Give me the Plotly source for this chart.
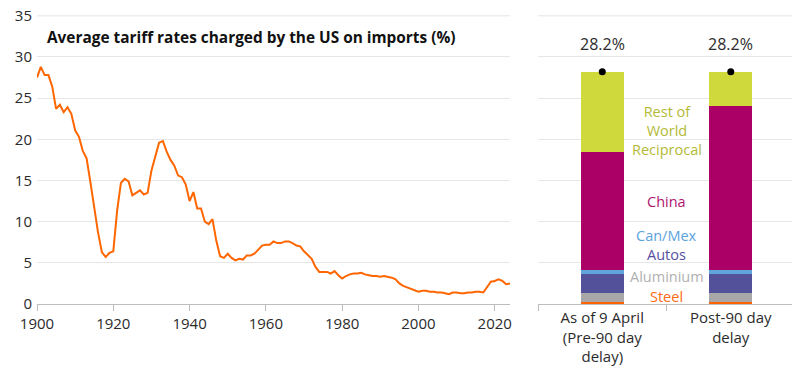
import plotly.graph_objects as go

# ---- Data ----
years = list(range(1900, 2025))
avg_tariff = [
    27.5, 28.8, 27.8, 27.8, 26.4, 23.7, 24.2, 23.3, 23.9, 23.1,  # 1900-1909
    21.1, 20.3, 18.6, 17.7, 14.8, 11.6, 8.7, 6.3, 5.7, 6.2,      # 1910-1919
    6.4, 11.3, 14.7, 15.2, 14.9, 13.2, 13.5, 13.8, 13.3, 13.5,   # 1920-1929
    16.2, 17.9, 19.6, 19.8, 18.5, 17.5, 16.8, 15.6, 15.4, 14.5,  # 1930-1939
    12.5, 13.6, 11.6, 11.6, 10.0, 9.7, 10.3, 7.7, 5.8, 5.6,      # 1940-1949
    6.1, 5.6, 5.3, 5.5, 5.4, 5.9, 5.9, 6.1, 6.6, 7.1,            # 1950-1959
    7.2, 7.2, 7.6, 7.4, 7.4, 7.6, 7.6, 7.4, 7.1, 7.0,            # 1960-1969
    6.4, 6.0, 5.5, 4.5, 3.9, 3.9, 3.9, 3.7, 4.0, 3.5,            # 1970-1979
    3.1, 3.4, 3.6, 3.7, 3.7, 3.8, 3.6, 3.5, 3.4, 3.4,            # 1980-1989
    3.3, 3.4, 3.3, 3.2, 3.0, 2.5, 2.2, 2.0, 1.9, 1.7,            # 1990-1999
    1.5, 1.6, 1.6, 1.5, 1.5, 1.4, 1.4, 1.3, 1.2, 1.4,            # 2000-2009
    1.4, 1.3, 1.3, 1.4, 1.4, 1.5, 1.5, 1.4, 2.0, 2.7,            # 2010-2019
    2.8, 3.0, 2.8, 2.4, 2.5,                                     # 2020-2024
]

scenarios = ["As of 9 April<br>(Pre-90 day<br>delay)", "Post-90 day<br>delay"]
components = ["Steel", "Aluminium", "Autos", "Can/Mex", "China", "Rest of<br>World<br>Reciprocal"]
steel = [0.2, 0.2]
aluminium = [1.15, 1.15]
autos = [2.28, 2.28]
canmex = [0.52, 0.52]
china = [14.28, 19.87]
rest_of_world = [9.77, 4.18]
totals = [28.2, 28.2]

comp_values = [steel, aluminium, autos, canmex, china, rest_of_world]
bar_colors = ["#FF6200", "#A8A8A8", "#525199", "#60A4DC", "#AB0066", "#D0D93C"]
label_colors = ["#FF6A13", "#B0B0B0", "#55509E", "#5BA3DC", "#B0136F", "#B3BA35"]
label_y = [0.9, 3.4, 6.0, 8.3, 12.5, 21.1]

title_text = "Average tariff rates charged by the US on imports (%)"

FONT = "Open Sans"
TXT = "#2b2b2b"
GRID = "#E6E6E6"

fig = go.Figure()

fig.add_trace(go.Scatter(
    x=years, y=avg_tariff, mode="lines",
    line=dict(color="#FF6600", width=2),
    xaxis="x", yaxis="y", showlegend=False, hoverinfo="skip",
))

for name, vals, col in zip(components, comp_values, bar_colors):
    fig.add_trace(go.Bar(
        x=scenarios, y=vals, name=name, marker=dict(color=col, line=dict(width=0)),
        xaxis="x2", yaxis="y2", showlegend=False,
    ))

fig.add_trace(go.Scatter(
    x=scenarios, y=totals, mode="markers",
    marker=dict(color="black", size=7),
    xaxis="x2", yaxis="y2", showlegend=False,
))

annotations = []
annotations.append(dict(
    text=title_text, xref="paper", yref="y", x=0.0105, y=32.4, xanchor="left", yanchor="middle",
    showarrow=False, font=dict(family=FONT, size=15.4, color="#111111", weight="bold"),
))
for name, ly, col in zip(components, label_y, label_colors):
    annotations.append(dict(
        text=name, xref="x2", yref="y2", x=0.5, y=ly, showarrow=False,
        xanchor="center", yanchor="middle",
        font=dict(family=FONT, size=14.5, color=col),
    ))
for sc, tv in zip(scenarios, totals):
    annotations.append(dict(
        text=f"{tv}%", xref="x2", yref="y2", x=sc, y=tv, showarrow=False,
        xanchor="center", yanchor="middle", yshift=28,
        font=dict(family=FONT, size=16, color=TXT),
    ))

axis_common = dict(
    showline=True, linecolor="#BDBDBD", linewidth=1,
    ticks="outside", ticklen=6, tickcolor="#BDBDBD",
    tickfont=dict(family=FONT, size=15, color=TXT),
    automargin=False,
)

YMAX = 35.1
TOP_GRID = 35

shapes = [
    dict(type="line", xref="x domain", yref="y", x0=0, x1=1, y0=TOP_GRID, y1=TOP_GRID,
         line=dict(color=GRID, width=1), layer="below"),
    dict(type="line", xref="x2 domain", yref="y2", x0=0, x1=1, y0=TOP_GRID, y1=TOP_GRID,
         line=dict(color=GRID, width=1), layer="below"),
]

fig.update_layout(
    width=800, height=381,
    margin=dict(l=29, r=13, t=7, b=85),
    paper_bgcolor="white", plot_bgcolor="white",
    bargap=0.665, barmode="stack",
    annotations=annotations,
    shapes=shapes,
    xaxis=dict(domain=[0, 0.624], range=[1900, 2024], dtick=20, showgrid=False,
               zeroline=False, **axis_common),
    yaxis=dict(range=[0, YMAX], tick0=0, dtick=5, showgrid=True, gridcolor=GRID, zeroline=False,
               showline=False, ticks="", ticklabelstandoff=4, automargin=False,
               ticklabeloverflow="allow",
               tickfont=dict(family=FONT, size=15, color=TXT)),
    xaxis2=dict(domain=[0.661, 1], anchor="y2", showgrid=False, tickson="boundaries",
                **axis_common),
    yaxis2=dict(range=[0, YMAX], tick0=0, dtick=5, anchor="x2", showgrid=True, gridcolor=GRID,
                zeroline=False, showticklabels=False, showline=False, automargin=False),
)

fig.write_html("out.html")
